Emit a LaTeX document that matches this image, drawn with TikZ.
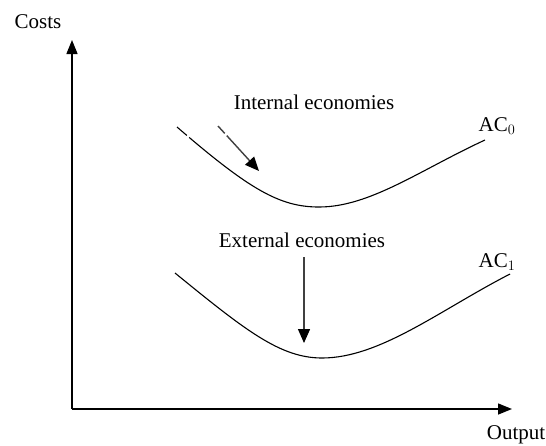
\documentclass[tikz,border=0pt]{standalone}
\usepackage{fontspec}
\setmainfont{Liberation Serif}
\usetikzlibrary{arrows.meta}
\begin{document}
\begin{tikzpicture}[x=1pt,y=-1pt,
  lbl/.style={font=\fontsize{21}{24}\selectfont, inner sep=0pt},
  axis/.style={line width=1.4pt, -{Triangle[length=14pt,width=11pt]}},
  curve/.style={line width=1.1pt},
  econarrow/.style={line width=1.4pt, draw=black!75, -{Triangle[length=14pt,width=12pt,color=black]}}]
\useasboundingbox (0,0) rectangle (546,445);
% axes
\coordinate (O) at (72,409);
\coordinate (ytip) at (72,40);
\coordinate (xtip) at (512,409);
\draw[axis] (O) -- (ytip);
\draw[axis] (O) -- (xtip);
\node[lbl] (costs) at (38,22) {Costs};
\node[lbl] (output) at (516,435) {Output};
% AC0 curve
\coordinate (a0s) at (177,127);
\coordinate (a0m) at (319,207);
\coordinate (a0e) at (485,140);
\draw[curve, dash pattern=on 13pt off 3pt on 2000pt] (a0s) .. controls (250,190) and (280,207) .. (a0m) .. controls (370,207) and (420,170) .. (a0e);
\node[lbl] (ac0) at (497,126) {AC$_{\fontsize{15}{15}\selectfont 0}$};
% AC1 curve
\coordinate (a1s) at (175,273);
\coordinate (a1m) at (322,358);
\coordinate (a1e) at (510,274);
\draw[curve] (a1s) .. controls (245,330) and (280,358) .. (a1m) .. controls (380,358) and (440,310) .. (a1e);
\node[lbl] (ac1) at (497,262) {AC$_{\fontsize{15}{15}\selectfont 1}$};
% internal economies
\node[lbl] (internal) at (314,102) {Internal economies};
\coordinate (is) at (218,126);
\coordinate (ie) at (259,171);
\draw[econarrow, dash pattern=on 10pt off 3pt on 200pt] (is) -- (ie);
% external economies
\node[lbl] (external) at (302,240) {External economies};
\coordinate (es) at (304,257);
\coordinate (ee) at (304,343);
\draw[econarrow] (es) -- (ee);
\end{tikzpicture}
\end{document}
